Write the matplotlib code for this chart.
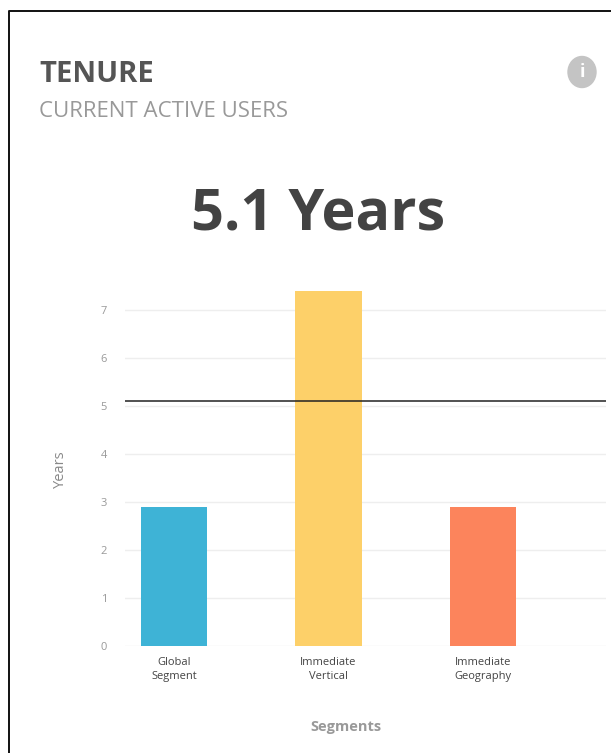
import matplotlib.pyplot as plt
from matplotlib.patches import Ellipse

categories = ["Global\nSegment", "Immediate\nVertical", "Immediate\nGeography"]
years = [2.9, 7.4, 2.9]
bar_colors = ["#3eb3d6", "#fdd069", "#fc845c"]
y_ticks = [0, 1, 2, 3, 4, 5, 6, 7]
average = 5.1

W, H = 611, 753
plt.rcParams["font.family"] = ["Open Sans", "DejaVu Sans"]

fig = plt.figure(figsize=(W / 100, H / 100), dpi=100)

# plot area in pixels: x 125-606, y 291-646
ax = fig.add_axes([125 / W, 1 - 646 / H, 481 / W, 355 / H])
ax.bar(range(3), years, width=0.43, color=bar_colors, zorder=2)
ax.axhline(average, color="#222222", lw=1.1, zorder=3)
ax.set_xlim(-0.317, 2.796)
ax.set_ylim(0, 7.4)
ax.set_yticks(y_ticks)
ax.set_xticks(range(3))
ax.set_xticklabels(categories, fontsize=8, color="#444444", linespacing=1.4)
ax.tick_params(axis="y", length=0, labelsize=8, labelcolor="#999999", pad=13)
ax.tick_params(axis="x", length=0, pad=8)
ax.grid(axis="y", color="#eeeeee", lw=1, zorder=0)
for s in ax.spines.values():
    s.set_visible(False)

fig.text(60 / W, 1 - 469 / H, "Years", fontsize=10.5, color="#888888", rotation=90, ha="center", va="center")
fig.text(346 / W, 1 - 731 / H, "Segments", fontsize=10.5, color="#999999", ha="center", va="baseline", fontweight="bold")

fig.text(39 / W, 1 - 82 / H, "TENURE", fontsize=21, color="#555555", fontweight="bold", va="baseline")
fig.text(39 / W, 1 - 117 / H, "CURRENT ACTIVE USERS", fontsize=16, color="#999999", va="baseline")
fig.text(318 / W, 1 - 230 / H, "5.1 Years", fontsize=41.5, color="#434343", fontweight="bold", ha="center", va="baseline")

# info icon and card border
bg = fig.add_axes([0, 0, 1, 1], zorder=-1)
bg.set_xlim(0, W)
bg.set_ylim(H, 0)
bg.axis("off")
bg.add_patch(Ellipse((582, 72), 28, 31, color="#c4c4c4"))
bg.plot([9, 9, W], [H, 11, 11], color="#111111", lw=1.4)
fig.text(582 / W, 1 - 72 / H, "i", fontsize=13, color="white", fontweight="bold", ha="center", va="center")

fig.savefig("out.png", dpi=100)
